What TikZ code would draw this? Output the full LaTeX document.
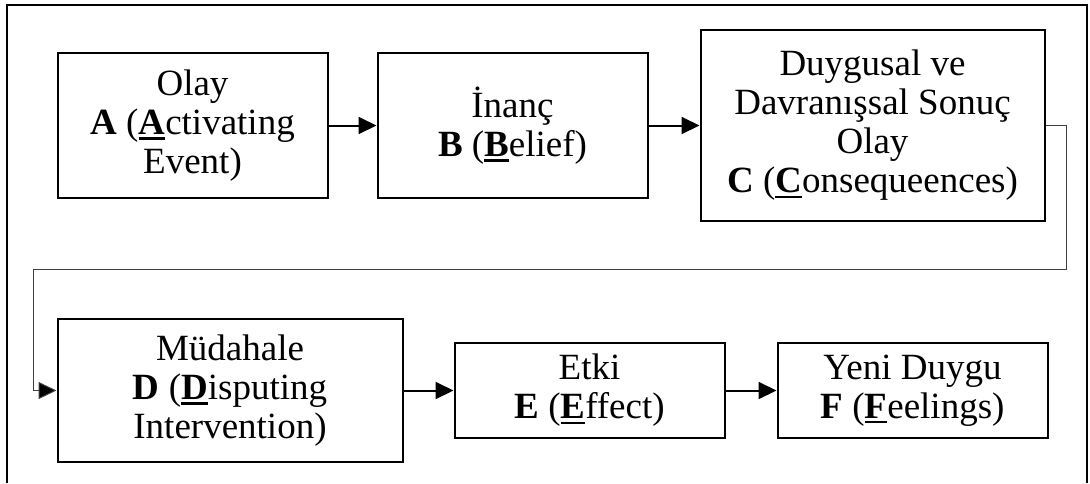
\documentclass[tikz,border=0pt]{standalone}
\usepackage{fontspec}
\setmainfont{Liberation Serif}
\usetikzlibrary{positioning}
\usetikzlibrary{arrows.meta}
% bold key letter, thick underline
\newcommand{\keyl}[1]{\textbf{\setbox0\hbox{#1}\rlap{\rule[-2.6pt]{\wd0}{1.3pt}}\box0}}
\tikzset{
stage/.style={
draw,
line width=1pt,
align=center,
inner sep=0pt,
font=\fontsize{18.5}{19.5}\selectfont,
minimum width=135pt,
minimum height=72.5pt},
flow/.style={
draw,
line width=1pt,
-{Triangle[length=9pt,width=8.5pt]}},
back/.style={
draw,
line width=0.5pt,
draw=black!75,
-{Triangle[length=9pt,width=8.5pt,fill=black]}},
frame/.style={
line width=1pt}}

\begin{document}
\begin{tikzpicture}
\useasboundingbox (0pt,0pt) rectangle (545pt,-241.5pt);
\node[stage] (A) at (96.25pt,-62.75pt) {Olay\\\textbf{A} (\keyl{A}ctivating\\Event)};
\node[stage, right=24pt of A] (B) {İnanç\\\textbf{B} (\keyl{B}elief)};
\node[stage, right=25.5pt of B, minimum width=172pt, minimum height=95.5pt] (C) {Duygusal ve\\Davranışsal Sonuç\\Olay\\\textbf{C} (\keyl{C}onsequeences)};
\node[stage, below right=59.5pt and 0pt of A.south west, minimum width=172.5pt, minimum height=71.5pt] (D) {Müdahale\\\textbf{D} (\keyl{D}isputing\\Intervention)};
\node[stage, right=25pt of D, minimum height=47.5pt] (E) {Etki\\\textbf{E} (\keyl{E}ffect)};
\node[stage, right=25.5pt of E, minimum height=47.5pt] (F) {Yeni Duygu\\\textbf{F} (\keyl{F}eelings)};
% outer frame, open at the bottom
\coordinate (fbl) at (3.5pt,-241.5pt);
\coordinate (ftr) at (543.5pt,-2.5pt);
\coordinate (fbr) at (543.5pt,-241.5pt);
\draw[frame] (fbl) |- (ftr) -- (fbr);
% main flow
\draw[flow] (A) -- (B);
\draw[flow] (B) -- (C);
\draw[flow] (D) -- (E);
\draw[flow] (E) -- (F);
% feedback from C to D
\coordinate (turnR) at (533pt,-134.5pt);
\coordinate (turnL) at (16.5pt,-134.5pt);
\draw[back] (C.east) -| (turnR) -- (turnL) |- (D.west);
\end{tikzpicture}
\end{document}
